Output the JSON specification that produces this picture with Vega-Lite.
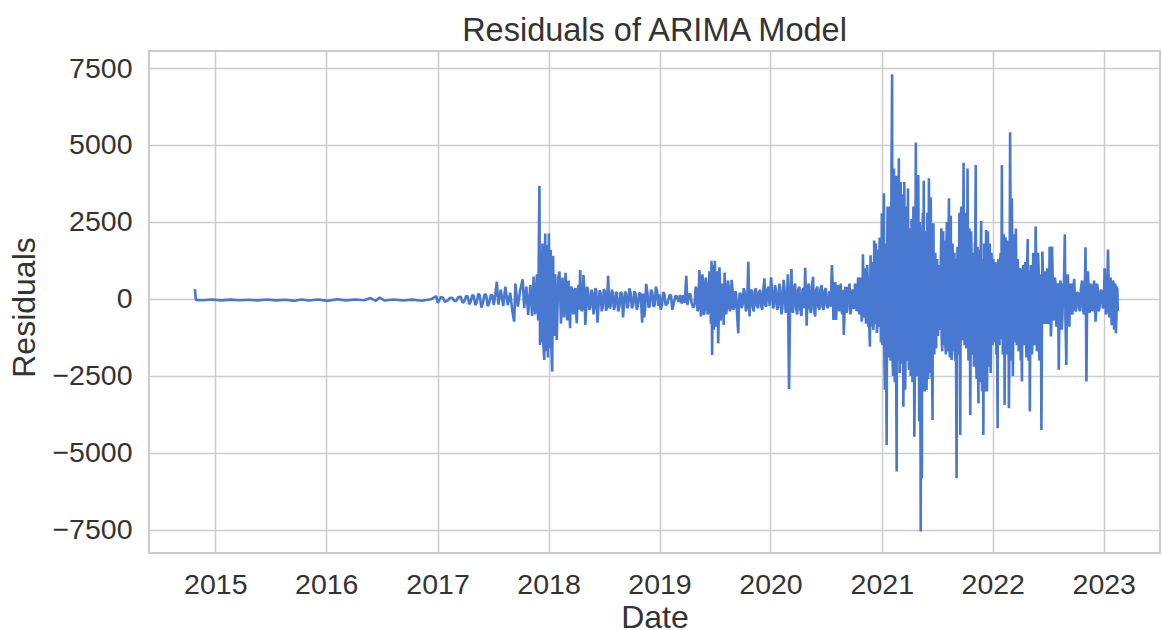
{"$schema":"https://vega.github.io/schema/vega-lite/v6.json","width":1011,"height":502,"autosize":{"type":"none"},"padding":{"left":149,"top":51,"right":2,"bottom":77},"background":"white","config":{"font":"Liberation Sans","view":{"stroke":"#cccccc","strokeWidth":2}},"title":{"text":"Residuals of ARIMA Model","fontSize":32.5,"fontWeight":"normal","color":"#333333","font":"Liberation Sans","offset":4,"anchor":"middle"},"data":{"values":[
{"d":"2014-10-26","r":320},{"d":"2014-10-29","r":-30},{"d":"2014-11-20","r":-40},{"d":"2014-12-20","r":-15},{"d":"2015-01-20","r":-45},{"d":"2015-02-20","r":-20},{"d":"2015-03-20","r":-40},{"d":"2015-04-20","r":-25},{"d":"2015-05-20","r":-45},{"d":"2015-06-20","r":-15},{"d":"2015-07-20","r":-45},{"d":"2015-08-20","r":-25},{"d":"2015-09-20","r":-60},{"d":"2015-10-10","r":-15},{"d":"2015-11-05","r":-50},{"d":"2015-12-05","r":-15},{"d":"2016-01-05","r":-60},{"d":"2016-02-05","r":-10},{"d":"2016-03-05","r":-45},{"d":"2016-04-05","r":-15},{"d":"2016-05-05","r":-40},{"d":"2016-05-25","r":30},{"d":"2016-06-12","r":-60},{"d":"2016-06-25","r":50},{"d":"2016-07-10","r":-50},{"d":"2016-08-10","r":-15},{"d":"2016-09-10","r":-50},{"d":"2016-10-10","r":-20},{"d":"2016-11-10","r":-55},{"d":"2016-12-10","r":-10},{"d":"2016-12-28","r":90},{"d":"2017-01-02","r":-130},{"d":"2017-01-12","r":70},{"d":"2017-01-25","r":-90},{"d":"2017-02-10","r":30},{"d":"2017-02-25","r":-60},{"d":"2017-03-10","r":60},{"d":"2017-03-25","r":-120},{"d":"2017-04-05","r":100},{"d":"2017-04-15","r":-170},{"d":"2017-04-25","r":130},{"d":"2017-05-05","r":-200},{"d":"2017-05-15","r":170},{"d":"2017-05-25","r":-280},{"d":"2017-06-05","r":160},{"d":"2017-06-15","r":-230},{"d":"2017-06-25","r":130},{"d":"2017-07-05","r":-190},{"d":"2017-07-15","r":560},{"d":"2017-07-20","r":-180},{"d":"2017-07-28","r":300},{"d":"2017-08-05","r":-230},{"d":"2017-08-12","r":400},{"d":"2017-08-20","r":-200},{"d":"2017-08-28","r":200},{"d":"2017-09-04","r":-400},{"d":"2017-09-10","r":-735},{"d":"2017-09-14","r":500},{"d":"2017-09-22","r":-250},{"d":"2017-09-30","r":300},{"d":"2017-10-08","r":640},{"d":"2017-10-13","r":-300},{"d":"2017-10-20","r":400},{"d":"2017-10-26","r":-520},{"d":"2017-11-02","r":450},{"d":"2017-11-08","r":-550},{"d":"2017-11-13","r":725},{"d":"2017-11-18","r":-500},{"d":"2017-11-24","r":800},{"d":"2017-11-28","r":-700},{"d":"2017-12-02","r":3680},{"d":"2017-12-04","r":-1490},{"d":"2017-12-06","r":1500},{"d":"2017-12-09","r":-1400},{"d":"2017-12-12","r":1800},{"d":"2017-12-15","r":-1500},{"d":"2017-12-18","r":-1980},{"d":"2017-12-21","r":2130},{"d":"2017-12-24","r":-1700},{"d":"2017-12-27","r":1750},{"d":"2017-12-30","r":-1900},{"d":"2018-01-02","r":2130},{"d":"2018-01-05","r":-1600},{"d":"2018-01-08","r":1600},{"d":"2018-01-11","r":-1800},{"d":"2018-01-13","r":-2360},{"d":"2018-01-16","r":1400},{"d":"2018-01-19","r":-1200},{"d":"2018-01-23","r":800},{"d":"2018-01-28","r":-1330},{"d":"2018-02-02","r":700},{"d":"2018-02-06","r":890},{"d":"2018-02-11","r":-800},{"d":"2018-02-16","r":700},{"d":"2018-02-21","r":-600},{"d":"2018-02-26","r":850},{"d":"2018-03-03","r":-700},{"d":"2018-03-08","r":600},{"d":"2018-03-13","r":-950},{"d":"2018-03-18","r":400},{"d":"2018-03-24","r":-500},{"d":"2018-03-30","r":350},{"d":"2018-04-04","r":-790},{"d":"2018-04-10","r":450},{"d":"2018-04-15","r":940},{"d":"2018-04-20","r":-400},{"d":"2018-04-26","r":780},{"d":"2018-05-02","r":-840},{"d":"2018-05-08","r":400},{"d":"2018-05-15","r":-350},{"d":"2018-05-22","r":300},{"d":"2018-05-29","r":-500},{"d":"2018-06-04","r":350},{"d":"2018-06-11","r":-770},{"d":"2018-06-18","r":280},{"d":"2018-06-25","r":-400},{"d":"2018-07-02","r":320},{"d":"2018-07-09","r":-380},{"d":"2018-07-16","r":750},{"d":"2018-07-21","r":-300},{"d":"2018-07-28","r":300},{"d":"2018-08-04","r":-350},{"d":"2018-08-11","r":230},{"d":"2018-08-18","r":-400},{"d":"2018-08-26","r":220},{"d":"2018-09-03","r":-600},{"d":"2018-09-10","r":240},{"d":"2018-09-17","r":-300},{"d":"2018-09-24","r":350},{"d":"2018-10-02","r":-300},{"d":"2018-10-10","r":250},{"d":"2018-10-18","r":-350},{"d":"2018-10-26","r":200},{"d":"2018-11-05","r":-770},{"d":"2018-11-12","r":-600},{"d":"2018-11-18","r":490},{"d":"2018-11-26","r":-280},{"d":"2018-12-04","r":300},{"d":"2018-12-12","r":-250},{"d":"2018-12-20","r":400},{"d":"2018-12-28","r":-220},{"d":"2019-01-05","r":-350},{"d":"2019-01-13","r":220},{"d":"2019-01-21","r":-200},{"d":"2019-02-03","r":130},{"d":"2019-02-12","r":-350},{"d":"2019-02-22","r":100},{"d":"2019-03-05","r":-100},{"d":"2019-03-30","r":750},{"d":"2019-04-03","r":-200},{"d":"2019-04-12","r":180},{"d":"2019-04-22","r":-280},{"d":"2019-04-30","r":400},{"d":"2019-05-06","r":-400},{"d":"2019-05-12","r":940},{"d":"2019-05-17","r":-570},{"d":"2019-05-22","r":800},{"d":"2019-05-27","r":-520},{"d":"2019-06-02","r":700},{"d":"2019-06-08","r":-500},{"d":"2019-06-14","r":900},{"d":"2019-06-19","r":-800},{"d":"2019-06-21","r":1245},{"d":"2019-06-23","r":-1820},{"d":"2019-06-26","r":1100},{"d":"2019-06-29","r":-1000},{"d":"2019-07-02","r":1245},{"d":"2019-07-05","r":-900},{"d":"2019-07-09","r":900},{"d":"2019-07-13","r":-1440},{"d":"2019-07-17","r":1030},{"d":"2019-07-21","r":-700},{"d":"2019-07-26","r":500},{"d":"2019-07-31","r":-840},{"d":"2019-08-03","r":855},{"d":"2019-08-08","r":-500},{"d":"2019-08-14","r":600},{"d":"2019-08-20","r":-400},{"d":"2019-08-26","r":620},{"d":"2019-09-01","r":-350},{"d":"2019-09-07","r":250},{"d":"2019-09-13","r":-500},{"d":"2019-09-17","r":-1115},{"d":"2019-09-22","r":200},{"d":"2019-09-28","r":-300},{"d":"2019-10-05","r":350},{"d":"2019-10-12","r":-400},{"d":"2019-10-20","r":1210},{"d":"2019-10-24","r":-570},{"d":"2019-10-31","r":300},{"d":"2019-11-07","r":-400},{"d":"2019-11-14","r":350},{"d":"2019-11-21","r":-300},{"d":"2019-11-28","r":300},{"d":"2019-12-05","r":-350},{"d":"2019-12-12","r":670},{"d":"2019-12-18","r":-250},{"d":"2019-12-25","r":400},{"d":"2020-01-03","r":700},{"d":"2020-01-09","r":-300},{"d":"2020-01-16","r":450},{"d":"2020-01-23","r":-350},{"d":"2020-01-30","r":500},{"d":"2020-02-06","r":-500},{"d":"2020-02-13","r":620},{"d":"2020-02-20","r":-450},{"d":"2020-02-27","r":800},{"d":"2020-03-02","r":-2920},{"d":"2020-03-05","r":-500},{"d":"2020-03-10","r":970},{"d":"2020-03-15","r":-450},{"d":"2020-03-22","r":500},{"d":"2020-03-29","r":-500},{"d":"2020-04-05","r":400},{"d":"2020-04-12","r":-550},{"d":"2020-04-19","r":350},{"d":"2020-04-24","r":1015},{"d":"2020-04-29","r":-865},{"d":"2020-05-06","r":500},{"d":"2020-05-13","r":-450},{"d":"2020-05-20","r":720},{"d":"2020-05-27","r":-570},{"d":"2020-06-03","r":400},{"d":"2020-06-10","r":-350},{"d":"2020-06-17","r":450},{"d":"2020-06-24","r":-350},{"d":"2020-07-01","r":350},{"d":"2020-07-08","r":-300},{"d":"2020-07-21","r":1100},{"d":"2020-07-26","r":-680},{"d":"2020-08-01","r":550},{"d":"2020-08-04","r":-680},{"d":"2020-08-09","r":450},{"d":"2020-08-14","r":-400},{"d":"2020-08-19","r":500},{"d":"2020-08-24","r":-500},{"d":"2020-08-29","r":-1170},{"d":"2020-09-03","r":400},{"d":"2020-09-08","r":-450},{"d":"2020-09-12","r":400},{"d":"2020-09-17","r":500},{"d":"2020-09-20","r":-500},{"d":"2020-09-25","r":300},{"d":"2020-09-30","r":-300},{"d":"2020-10-05","r":500},{"d":"2020-10-10","r":-400},{"d":"2020-10-15","r":700},{"d":"2020-10-19","r":-500},{"d":"2020-10-23","r":700},{"d":"2020-10-27","r":-735},{"d":"2020-10-31","r":1450},{"d":"2020-11-03","r":-600},{"d":"2020-11-06","r":1000},{"d":"2020-11-10","r":-800},{"d":"2020-11-14","r":1100},{"d":"2020-11-18","r":-900},{"d":"2020-11-23","r":-1550},{"d":"2020-11-25","r":1420},{"d":"2020-11-28","r":-900},{"d":"2020-12-01","r":1200},{"d":"2020-12-04","r":-1000},{"d":"2020-12-07","r":1900},{"d":"2020-12-10","r":-800},{"d":"2020-12-13","r":1800},{"d":"2020-12-16","r":-1100},{"d":"2020-12-19","r":1600},{"d":"2020-12-22","r":-900},{"d":"2020-12-25","r":2000},{"d":"2020-12-29","r":-1400},
{"d":"2021-01-01","r":2780},{"d":"2021-01-04","r":-1500},{"d":"2021-01-08","r":3430},{"d":"2021-01-11","r":-2950},{"d":"2021-01-14","r":1800},{"d":"2021-01-17","r":-4740},{"d":"2021-01-20","r":3000},{"d":"2021-01-23","r":-1900},{"d":"2021-01-27","r":3000},{"d":"2021-01-30","r":-2000},{"d":"2021-02-02","r":4240},{"d":"2021-02-04","r":7300},{"d":"2021-02-07","r":-2500},{"d":"2021-02-10","r":4240},{"d":"2021-02-13","r":-2700},{"d":"2021-02-16","r":4000},{"d":"2021-02-19","r":-5600},{"d":"2021-02-22","r":4000},{"d":"2021-02-26","r":4566},{"d":"2021-03-01","r":-2400},{"d":"2021-03-04","r":3800},{"d":"2021-03-07","r":-2100},{"d":"2021-03-10","r":3400},{"d":"2021-03-13","r":-3495},{"d":"2021-03-16","r":3800},{"d":"2021-03-19","r":-2950},{"d":"2021-03-22","r":3000},{"d":"2021-03-25","r":-2000},{"d":"2021-03-28","r":3590},{"d":"2021-03-31","r":-2300},{"d":"2021-04-03","r":2300},{"d":"2021-04-06","r":-2500},{"d":"2021-04-09","r":2600},{"d":"2021-04-12","r":-2700},{"d":"2021-04-15","r":3000},{"d":"2021-04-18","r":-4470},{"d":"2021-04-23","r":5085},{"d":"2021-04-26","r":-2500},{"d":"2021-05-01","r":4025},{"d":"2021-05-04","r":-3980},{"d":"2021-05-06","r":2500},{"d":"2021-05-09","r":-7550},{"d":"2021-05-11","r":1500},{"d":"2021-05-13","r":-5820},{"d":"2021-05-16","r":2800},{"d":"2021-05-19","r":3840},{"d":"2021-05-22","r":-3000},{"d":"2021-05-25","r":2200},{"d":"2021-05-28","r":-2950},{"d":"2021-05-31","r":2800},{"d":"2021-06-02","r":-2600},{"d":"2021-06-05","r":3917},{"d":"2021-06-08","r":-2400},{"d":"2021-06-11","r":3300},{"d":"2021-06-14","r":-2600},{"d":"2021-06-17","r":-3930},{"d":"2021-06-20","r":2456},{"d":"2021-06-23","r":-1800},{"d":"2021-06-26","r":1500},{"d":"2021-06-29","r":-1600},{"d":"2021-07-02","r":1300},{"d":"2021-07-05","r":-1200},{"d":"2021-07-09","r":1100},{"d":"2021-07-13","r":-1000},{"d":"2021-07-16","r":2300},{"d":"2021-07-19","r":-1700},{"d":"2021-07-22","r":2200},{"d":"2021-07-25","r":-1500},{"d":"2021-07-28","r":1900},{"d":"2021-07-31","r":-1800},{"d":"2021-08-03","r":2500},{"d":"2021-08-06","r":-1700},{"d":"2021-08-10","r":3270},{"d":"2021-08-13","r":-1900},{"d":"2021-08-16","r":2700},{"d":"2021-08-19","r":-1980},{"d":"2021-08-22","r":1800},{"d":"2021-08-25","r":-1700},{"d":"2021-08-28","r":1500},{"d":"2021-08-31","r":-2000},{"d":"2021-09-04","r":-5820},{"d":"2021-09-07","r":1700},{"d":"2021-09-10","r":-1800},{"d":"2021-09-13","r":2800},{"d":"2021-09-16","r":-4415},{"d":"2021-09-19","r":3000},{"d":"2021-09-22","r":-1300},{"d":"2021-09-27","r":4425},{"d":"2021-09-30","r":-1500},{"d":"2021-10-03","r":2800},{"d":"2021-10-06","r":-1600},{"d":"2021-10-10","r":4240},{"d":"2021-10-13","r":-2000},{"d":"2021-10-16","r":2300},{"d":"2021-10-19","r":-3765},{"d":"2021-10-22","r":2200},{"d":"2021-10-25","r":-1800},{"d":"2021-10-28","r":1500},{"d":"2021-10-31","r":-2200},{"d":"2021-11-03","r":1800},{"d":"2021-11-06","r":4350},{"d":"2021-11-09","r":-2600},{"d":"2021-11-12","r":1700},{"d":"2021-11-15","r":-3390},{"d":"2021-11-18","r":1600},{"d":"2021-11-21","r":-2700},{"d":"2021-11-24","r":2530},{"d":"2021-11-27","r":-3000},{"d":"2021-12-01","r":-4415},{"d":"2021-12-04","r":1800},{"d":"2021-12-07","r":-3000},{"d":"2021-12-10","r":2240},{"d":"2021-12-13","r":-3000},{"d":"2021-12-16","r":2200},{"d":"2021-12-19","r":-2200},{"d":"2021-12-22","r":1800},{"d":"2021-12-25","r":-2400},{"d":"2021-12-28","r":1500},{"d":"2021-12-31","r":-1500},{"d":"2022-01-03","r":1300},{"d":"2022-01-06","r":-1400},{"d":"2022-01-09","r":1200},{"d":"2022-01-13","r":-1800},{"d":"2022-01-17","r":-4200},{"d":"2022-01-20","r":1300},{"d":"2022-01-23","r":-1500},{"d":"2022-01-27","r":1500},{"d":"2022-01-31","r":4350},{"d":"2022-02-03","r":-1800},{"d":"2022-02-06","r":2100},{"d":"2022-02-09","r":-3440},{"d":"2022-02-12","r":2000},{"d":"2022-02-16","r":-1800},{"d":"2022-02-20","r":1900},{"d":"2022-02-23","r":-3550},{"d":"2022-02-27","r":5410},{"d":"2022-03-02","r":-2000},{"d":"2022-03-05","r":3270},{"d":"2022-03-08","r":-2500},{"d":"2022-03-11","r":2100},{"d":"2022-03-14","r":-1400},{"d":"2022-03-18","r":2290},{"d":"2022-03-21","r":-1500},{"d":"2022-03-24","r":1300},{"d":"2022-03-27","r":-1700},{"d":"2022-03-31","r":1000},{"d":"2022-04-03","r":-2000},{"d":"2022-04-07","r":-2680},{"d":"2022-04-11","r":1100},{"d":"2022-04-14","r":-1500},{"d":"2022-04-18","r":1200},{"d":"2022-04-22","r":-1900},{"d":"2022-04-26","r":1950},{"d":"2022-04-29","r":-2000},{"d":"2022-05-03","r":-3650},{"d":"2022-05-06","r":1100},{"d":"2022-05-10","r":-1800},{"d":"2022-05-14","r":1500},{"d":"2022-05-18","r":-1500},{"d":"2022-05-22","r":2350},{"d":"2022-05-26","r":-1700},{"d":"2022-05-30","r":1500},{"d":"2022-06-03","r":-2000},{"d":"2022-06-10","r":-4250},{"d":"2022-06-13","r":1540},{"d":"2022-06-17","r":-800},{"d":"2022-06-21","r":900},{"d":"2022-06-25","r":-800},{"d":"2022-06-29","r":1000},{"d":"2022-07-03","r":-800},{"d":"2022-07-07","r":1700},{"d":"2022-07-11","r":-1220},{"d":"2022-07-15","r":1700},{"d":"2022-07-19","r":-700},{"d":"2022-07-24","r":700},{"d":"2022-07-29","r":-900},{"d":"2022-08-02","r":500},{"d":"2022-08-06","r":-2300},{"d":"2022-08-11","r":600},{"d":"2022-08-16","r":-1000},{"d":"2022-08-21","r":500},{"d":"2022-08-26","r":2100},{"d":"2022-08-31","r":-2140},{"d":"2022-09-05","r":800},{"d":"2022-09-10","r":-900},{"d":"2022-09-15","r":500},{"d":"2022-09-20","r":-500},{"d":"2022-09-26","r":650},{"d":"2022-10-02","r":-400},{"d":"2022-10-09","r":200},{"d":"2022-10-15","r":-400},{"d":"2022-10-22","r":600},{"d":"2022-10-28","r":-500},{"d":"2022-11-02","r":1680},{"d":"2022-11-05","r":-2680},{"d":"2022-11-10","r":900},{"d":"2022-11-15","r":-450},{"d":"2022-11-20","r":500},{"d":"2022-11-25","r":-400},{"d":"2022-11-30","r":600},{"d":"2022-12-05","r":-735},{"d":"2022-12-10","r":500},{"d":"2022-12-15","r":-400},{"d":"2022-12-22","r":300},{"d":"2022-12-29","r":-300},{"d":"2023-01-04","r":1000},{"d":"2023-01-08","r":-500},{"d":"2023-01-15","r":1610},{"d":"2023-01-19","r":-600},{"d":"2023-01-23","r":700},{"d":"2023-01-27","r":-850},{"d":"2023-01-31","r":600},{"d":"2023-02-04","r":-1000},{"d":"2023-02-07","r":500},{"d":"2023-02-10","r":-1115},{"d":"2023-02-13","r":400},{"d":"2023-02-16","r":-400},
{"d":"2017-01-19","r":40},{"d":"2017-02-03","r":-50},{"d":"2017-02-18","r":40},{"d":"2017-03-03","r":-60},{"d":"2017-03-18","r":70},{"d":"2017-03-30","r":-80},{"d":"2017-04-10","r":90},{"d":"2017-04-20","r":-90},{"d":"2017-04-30","r":100},{"d":"2017-05-10","r":-110},{"d":"2017-05-20","r":120},{"d":"2017-05-30","r":-120},{"d":"2017-06-10","r":120},{"d":"2017-06-20","r":-130},{"d":"2017-06-30","r":120},{"d":"2017-07-10","r":150},
{"d":"2018-03-05","r":280},{"d":"2018-03-10","r":-300},{"d":"2018-03-15","r":350},{"d":"2018-03-21","r":-350},{"d":"2018-03-27","r":300},{"d":"2018-04-01","r":-300},{"d":"2018-04-07","r":320},{"d":"2018-04-12","r":-350},{"d":"2018-04-17","r":300},{"d":"2018-04-23","r":-300},{"d":"2018-04-29","r":300},{"d":"2018-05-05","r":-300},{"d":"2018-05-11","r":250},{"d":"2018-05-18","r":-280},{"d":"2018-05-25","r":220},{"d":"2018-06-01","r":-250},{"d":"2018-06-07","r":260},{"d":"2018-06-14","r":-280},{"d":"2018-06-21","r":220},{"d":"2018-06-28","r":-250},{"d":"2018-07-05","r":260},{"d":"2018-07-12","r":-280},{"d":"2018-07-18","r":250},{"d":"2018-07-24","r":-250},{"d":"2018-07-31","r":220},{"d":"2018-08-07","r":-250},{"d":"2018-08-14","r":180},{"d":"2018-08-22","r":-250},{"d":"2018-08-30","r":180},{"d":"2018-09-06","r":-200},{"d":"2018-09-13","r":180},{"d":"2018-09-20","r":-220},{"d":"2018-09-28","r":200},{"d":"2018-10-06","r":-220},{"d":"2018-10-14","r":180},{"d":"2018-10-22","r":-220},{"d":"2018-10-31","r":170},{"d":"2018-11-08","r":180},{"d":"2018-11-15","r":-250},{"d":"2018-11-22","r":220},{"d":"2018-11-30","r":-220},{"d":"2018-12-08","r":220},{"d":"2018-12-16","r":-200},{"d":"2018-12-24","r":240},{"d":"2019-01-01","r":150},{"d":"2019-01-09","r":-200},{"d":"2019-01-17","r":170},{"d":"2019-01-27","r":-150},{"d":"2019-02-08","r":120},{"d":"2019-02-17","r":-140},{"d":"2019-02-27","r":90},{"d":"2019-03-10","r":130},{"d":"2019-03-15","r":-150},{"d":"2019-03-20","r":120},{"d":"2019-03-25","r":-130},{"d":"2019-04-07","r":120},{"d":"2019-04-17","r":-150},{"d":"2019-04-26","r":-200},{"d":"2019-05-03","r":300},{"d":"2019-05-09","r":-300},{"d":"2019-05-15","r":400},{"d":"2019-05-19","r":-350},{"d":"2019-05-25","r":400},{"d":"2019-05-30","r":-350},{"d":"2019-06-05","r":450},{"d":"2019-06-11","r":-400},{"d":"2019-06-17","r":500},{"d":"2019-07-07","r":-600},{"d":"2019-07-11","r":600},{"d":"2019-07-15","r":-500},{"d":"2019-07-19","r":500},{"d":"2019-07-23","r":-400},{"d":"2019-07-29","r":400},{"d":"2019-08-05","r":350},{"d":"2019-08-11","r":-300},{"d":"2019-08-17","r":350},{"d":"2019-08-23","r":-300},{"d":"2019-08-29","r":300},{"d":"2019-09-04","r":-250},{"d":"2019-09-10","r":200},{"d":"2019-09-19","r":-200},{"d":"2019-09-25","r":150},{"d":"2019-10-01","r":-200},{"d":"2019-10-08","r":220},{"d":"2019-10-16","r":-250},{"d":"2019-10-27","r":250},{"d":"2019-11-03","r":-250},{"d":"2019-11-10","r":250},{"d":"2019-11-17","r":-220},{"d":"2019-11-24","r":220},{"d":"2019-12-01","r":-220},{"d":"2019-12-08","r":250},{"d":"2019-12-15","r":-200},{"d":"2019-12-21","r":280},{"d":"2019-12-29","r":-220},{"d":"2020-01-06","r":300},{"d":"2020-01-12","r":-250},{"d":"2020-01-19","r":300},{"d":"2020-01-26","r":-280},{"d":"2020-02-02","r":300},{"d":"2020-02-09","r":-300},{"d":"2020-02-16","r":350},{"d":"2020-02-23","r":-300},{"d":"2020-03-07","r":350},{"d":"2020-03-12","r":-300},{"d":"2020-03-18","r":350},{"d":"2020-03-25","r":-300},{"d":"2020-04-01","r":300},{"d":"2020-04-08","r":-350},{"d":"2020-04-15","r":300},{"d":"2020-04-21","r":-300},{"d":"2020-05-02","r":350},{"d":"2020-05-09","r":-300},{"d":"2020-05-16","r":400},{"d":"2020-05-23","r":-350},{"d":"2020-05-30","r":300},{"d":"2020-06-06","r":-250},{"d":"2020-06-13","r":300},{"d":"2020-06-20","r":-250},{"d":"2020-06-27","r":280},{"d":"2020-07-04","r":-200},{"d":"2020-07-12","r":250},{"d":"2020-07-17","r":-250},{"d":"2020-07-24","r":300},{"d":"2020-07-29","r":-300},{"d":"2020-08-06","r":300},{"d":"2020-08-12","r":-300},{"d":"2020-08-16","r":300},{"d":"2020-08-21","r":-300},{"d":"2020-08-27","r":300},{"d":"2020-09-01","r":-300},{"d":"2020-09-05","r":280},{"d":"2020-09-10","r":-300},{"d":"2020-09-14","r":300},{"d":"2020-09-23","r":-250},{"d":"2020-09-28","r":250},{"d":"2020-10-02","r":-300},{"d":"2020-10-07","r":350},{"d":"2020-10-12","r":-300},{"d":"2020-10-17","r":400},{"d":"2020-10-21","r":-350},{"d":"2020-10-25","r":400},{"d":"2020-10-29","r":-400},{"d":"2020-11-02","r":500},{"d":"2020-11-05","r":-500},{"d":"2020-11-08","r":600},{"d":"2020-11-12","r":-600},{"d":"2020-11-16","r":600},{"d":"2020-11-20","r":-600},{"d":"2020-11-26","r":700},{"d":"2020-11-30","r":-600},{"d":"2020-12-03","r":800},{"d":"2020-12-06","r":-700},{"d":"2020-12-09","r":900},{"d":"2020-12-12","r":-700},{"d":"2020-12-15","r":900},{"d":"2020-12-18","r":-800},{"d":"2020-12-21","r":1000},{"d":"2020-12-24","r":-800},{"d":"2020-12-27","r":1000},{"d":"2020-12-31","r":-1000},
{"d":"2021-01-02","r":-1300},{"d":"2021-01-06","r":1500},{"d":"2021-01-09","r":-1300},{"d":"2021-01-13","r":1600},{"d":"2021-01-15","r":-1500},{"d":"2021-01-19","r":1800},{"d":"2021-01-21","r":-1600},{"d":"2021-01-25","r":1900},{"d":"2021-01-28","r":-1700},{"d":"2021-02-01","r":2100},{"d":"2021-02-05","r":-1800},{"d":"2021-02-08","r":2100},{"d":"2021-02-11","r":-2000},{"d":"2021-02-14","r":2300},{"d":"2021-02-17","r":-1900},{"d":"2021-02-20","r":2200},{"d":"2021-02-24","r":-2000},{"d":"2021-02-27","r":2200},{"d":"2021-03-02","r":-2000},{"d":"2021-03-05","r":2100},{"d":"2021-03-08","r":-1900},{"d":"2021-03-11","r":2000},{"d":"2021-03-14","r":-2000},{"d":"2021-03-17","r":1800},{"d":"2021-03-20","r":-2000},{"d":"2021-03-23","r":1700},{"d":"2021-03-26","r":-1900},{"d":"2021-03-29","r":1700},{"d":"2021-04-01","r":-2000},{"d":"2021-04-04","r":1600},{"d":"2021-04-07","r":-2100},{"d":"2021-04-10","r":1700},{"d":"2021-04-13","r":-2200},{"d":"2021-04-16","r":1800},{"d":"2021-04-20","r":-2300},{"d":"2021-04-24","r":1800},{"d":"2021-04-28","r":-2400},{"d":"2021-05-02","r":1700},{"d":"2021-05-05","r":-2500},{"d":"2021-05-07","r":1600},{"d":"2021-05-14","r":1500},{"d":"2021-05-17","r":-2600},{"d":"2021-05-20","r":1500},{"d":"2021-05-23","r":-2700},{"d":"2021-05-26","r":1500},{"d":"2021-05-29","r":-2500},{"d":"2021-06-01","r":1600},{"d":"2021-06-03","r":-2300},{"d":"2021-06-06","r":1600},{"d":"2021-06-09","r":-2200},{"d":"2021-06-12","r":1500},{"d":"2021-06-15","r":-2000},{"d":"2021-06-18","r":1500},{"d":"2021-06-21","r":-1700},{"d":"2021-06-24","r":1300},{"d":"2021-06-27","r":-1400},{"d":"2021-06-30","r":1100},{"d":"2021-07-03","r":-1000},{"d":"2021-07-07","r":900},{"d":"2021-07-11","r":-900},{"d":"2021-07-14","r":1200},{"d":"2021-07-17","r":-1300},{"d":"2021-07-20","r":1400},{"d":"2021-07-23","r":-1300},{"d":"2021-07-26","r":1300},{"d":"2021-07-29","r":-1500},{"d":"2021-08-01","r":1500},{"d":"2021-08-04","r":-1500},{"d":"2021-08-08","r":1600},{"d":"2021-08-11","r":-1500},{"d":"2021-08-14","r":1700},{"d":"2021-08-17","r":-1500},{"d":"2021-08-20","r":1400},{"d":"2021-08-23","r":-1400},{"d":"2021-08-26","r":1300},{"d":"2021-08-29","r":-1500},{"d":"2021-09-01","r":1300},{"d":"2021-09-05","r":-1500},{"d":"2021-09-08","r":1400},{"d":"2021-09-11","r":-1500},{"d":"2021-09-14","r":1500},{"d":"2021-09-17","r":-1400},{"d":"2021-09-20","r":1600},{"d":"2021-09-24","r":-1300},{"d":"2021-09-28","r":1600},{"d":"2021-10-01","r":-1400},{"d":"2021-10-04","r":1700},{"d":"2021-10-08","r":-1500},{"d":"2021-10-11","r":1700},{"d":"2021-10-14","r":-1600},{"d":"2021-10-17","r":1500},{"d":"2021-10-20","r":-1700},{"d":"2021-10-23","r":1400},{"d":"2021-10-26","r":-1600},{"d":"2021-10-29","r":1300},{"d":"2021-11-01","r":-1700},{"d":"2021-11-04","r":1300},{"d":"2021-11-07","r":-1800},{"d":"2021-11-10","r":1400},{"d":"2021-11-13","r":-1900},{"d":"2021-11-16","r":1300},{"d":"2021-11-19","r":-2000},{"d":"2021-11-22","r":1300},{"d":"2021-11-25","r":-2000},{"d":"2021-11-29","r":1300},{"d":"2021-12-02","r":-2000},{"d":"2021-12-05","r":1200},{"d":"2021-12-08","r":-2000},{"d":"2021-12-11","r":1300},{"d":"2021-12-14","r":-1800},{"d":"2021-12-17","r":1200},{"d":"2021-12-20","r":-1600},{"d":"2021-12-23","r":1100},{"d":"2021-12-26","r":-1500},{"d":"2021-12-29","r":1100},{"d":"2022-01-01","r":-1100},{"d":"2022-01-04","r":1000},{"d":"2022-01-07","r":-1100},{"d":"2022-01-11","r":1000},{"d":"2022-01-15","r":-1300},{"d":"2022-01-18","r":1100},{"d":"2022-01-21","r":-1200},{"d":"2022-01-25","r":1200},{"d":"2022-01-29","r":-1300},{"d":"2022-02-01","r":1300},{"d":"2022-02-04","r":-1400},{"d":"2022-02-07","r":1400},{"d":"2022-02-10","r":-1500},{"d":"2022-02-14","r":1500},{"d":"2022-02-18","r":-1500},{"d":"2022-02-21","r":1400},{"d":"2022-02-25","r":-1500},{"d":"2022-03-01","r":1500},{"d":"2022-03-03","r":-1500},{"d":"2022-03-06","r":1400},{"d":"2022-03-09","r":-1500},{"d":"2022-03-12","r":1300},{"d":"2022-03-16","r":-1200},{"d":"2022-03-19","r":1200},{"d":"2022-03-22","r":-1200},{"d":"2022-03-25","r":1000},{"d":"2022-03-29","r":-1300},{"d":"2022-04-01","r":900},{"d":"2022-04-05","r":-1300},{"d":"2022-04-09","r":900},{"d":"2022-04-12","r":-1200},{"d":"2022-04-16","r":900},{"d":"2022-04-20","r":-1300},{"d":"2022-04-24","r":1000},{"d":"2022-04-27","r":-1400},{"d":"2022-05-01","r":900},{"d":"2022-05-04","r":-1300},{"d":"2022-05-08","r":900},{"d":"2022-05-12","r":-1200},{"d":"2022-05-16","r":1000},{"d":"2022-05-20","r":-1100},{"d":"2022-05-24","r":1100},{"d":"2022-05-28","r":-1000},{"d":"2022-06-01","r":900},{"d":"2022-06-06","r":-1000},{"d":"2022-06-08","r":800},{"d":"2022-06-15","r":800},{"d":"2022-06-19","r":-700},{"d":"2022-06-23","r":700},{"d":"2022-06-27","r":-700},{"d":"2022-07-01","r":800},{"d":"2022-07-05","r":-700},{"d":"2022-07-09","r":800},{"d":"2022-07-13","r":-700},{"d":"2022-07-17","r":700},{"d":"2022-07-21","r":-600},{"d":"2022-07-26","r":550},{"d":"2022-07-31","r":-600},{"d":"2022-08-04","r":450},{"d":"2022-08-08","r":-600},{"d":"2022-08-13","r":450},{"d":"2022-08-18","r":-600},{"d":"2022-08-23","r":450},{"d":"2022-08-28","r":-600},{"d":"2022-09-02","r":550},{"d":"2022-09-07","r":-600},{"d":"2022-09-12","r":400},{"d":"2022-09-17","r":-400},{"d":"2022-09-23","r":400},{"d":"2022-09-29","r":-350},{"d":"2022-10-05","r":200},{"d":"2022-10-12","r":-300},{"d":"2022-10-18","r":350},{"d":"2022-10-25","r":-350},{"d":"2022-10-31","r":350},{"d":"2022-11-07","r":-400},{"d":"2022-11-12","r":400},{"d":"2022-11-17","r":-350},{"d":"2022-11-22","r":350},{"d":"2022-11-27","r":-350},{"d":"2022-12-02","r":400},{"d":"2022-12-07","r":-400},{"d":"2022-12-12","r":350},{"d":"2022-12-18","r":-300},{"d":"2022-12-25","r":250},{"d":"2023-01-01","r":-250},{"d":"2023-01-06","r":400},{"d":"2023-01-11","r":-400},{"d":"2023-01-17","r":500},{"d":"2023-01-21","r":-500},{"d":"2023-01-25","r":500},{"d":"2023-01-29","r":-500},{"d":"2023-02-02","r":500},{"d":"2023-02-05","r":-500},{"d":"2023-02-09","r":400},{"d":"2023-02-12","r":-500},{"d":"2023-02-15","r":300}
]},"mark":{"type":"line","color":"#4878d0","strokeWidth":2.6,"strokeJoin":"miter","strokeMiterLimit":1,"clip":true},"encoding":{"x":{"field":"d","type":"temporal","scale":{"type":"utc","domain":[{"year":2014,"month":5,"date":28,"utc":true},{"year":2023,"month":7,"date":5,"utc":true}],"nice":false},"axis":{"title":"Date","format":"%Y","tickCount":{"interval":"year","step":1},"labelAngle":0,"labelFontSize":28.5,"labelColor":"#333333","labelPadding":17,"titleFontSize":32,"titleFontWeight":"normal","titleColor":"#333333","titlePadding":4,"ticks":false,"domain":false,"gridColor":"#cccccc","gridWidth":1.5,"labelFlush":false}},"y":{"field":"r","type":"quantitative","scale":{"domain":[-8247,8052],"nice":false,"zero":false},"axis":{"title":"Residuals","titleY":256,"values":[-7500,-5000,-2500,0,2500,5000,7500],"format":"d","labelFontSize":28.5,"labelColor":"#333333","labelPadding":17,"titleFontSize":32,"titleFontWeight":"normal","titleColor":"#333333","titlePadding":10,"ticks":false,"domain":false,"gridColor":"#cccccc","gridWidth":1.5}}}}
